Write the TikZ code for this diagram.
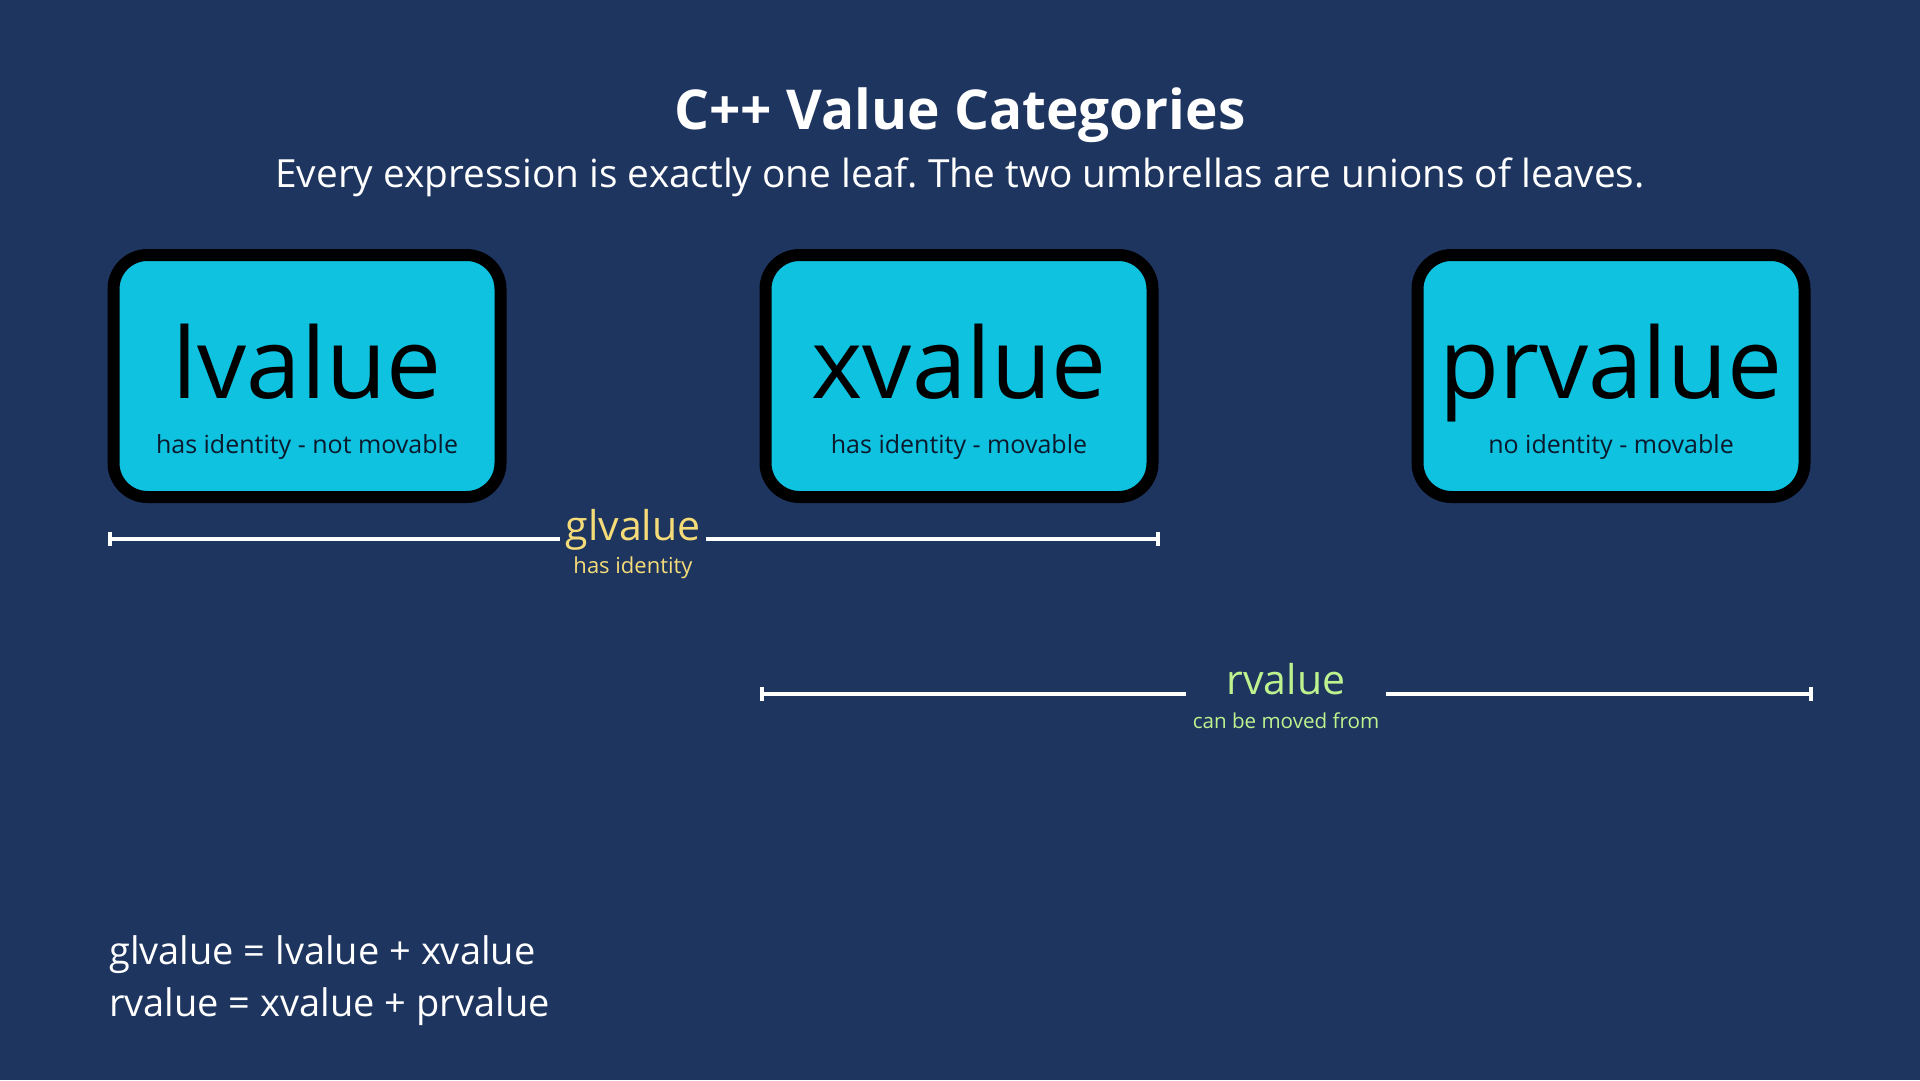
\documentclass[tikz,border=0pt]{standalone}
\usepackage{fontspec}
\setmainfont{Open Sans}
\usetikzlibrary{arrows.meta, positioning, fit}
\definecolor{Navy}{HTML}{1E3560}
\definecolor{Cyan}{HTML}{0EC2E0}
\definecolor{Gold}{HTML}{F5DC78}
\definecolor{Lime}{HTML}{BDF28E}
\definecolor{Ink}{HTML}{0A1A2C}
\frenchspacing

\begin{document}
\begin{tikzpicture}[x=1pt, y=-1pt,
  leaf/.style={draw=black, line width=12pt, rounded corners=34pt,
     fill=Cyan, minimum width=387pt, minimum height=242pt},
  word/.style={anchor=base, inner sep=0pt, text=black,
     font=\fontsize{98}{98}\selectfont},
  note/.style={anchor=base, inner sep=0pt, text=Ink,
     font=\fontsize{25}{25}\selectfont},
  umb/.style={anchor=base, inner sep=0pt, font=\fontsize{41}{41}\selectfont},
  umbnote/.style={anchor=base, inner sep=0pt, font=\fontsize{22}{22}\selectfont},
  span/.style={line width=4pt, white},
  plain/.style={anchor=base, inner sep=0pt, text=white}]
  \fill[Navy] (0,0) rectangle (1920,1080);
  \useasboundingbox (0,0) rectangle (1920,1080);
  \node[plain, font=\fontsize{55}{55}\selectfont\bfseries] (title) at (960,129)
        {C++ Value Categories};
  \node[plain, font=\fontsize{38.8}{38.8}\selectfont] (sub) at (960,187)
        {Every expression is exactly one leaf. The two umbrellas are unions of leaves.};
  \node[leaf] (lv) at (307,376) {};
  \node[leaf] (xv) at (959,376) {};
  \node[leaf] (pv) at (1611,376) {};
  \node[word] (lv-w) at (307,398) {lvalue};
  \node[word] (xv-w) at (959,398) {xvalue};
  \node[word] (pv-w) at (1611,398) {prvalue};
  \node[note] (lv-n) at (307,453) {has identity - not movable};
  \node[note] (xv-n) at (959,453) {has identity - movable};
  \node[note] (pv-n) at (1611,453) {no identity - movable};
  \node[umb, text=Gold] (gl) at (633,540) {glvalue};
  \node[umbnote, text=Gold] (gl-n) at (633,573) {has identity};
  \node[fit=(gl)(gl-n), inner sep=5pt] (gl-fit) {};
  \node[umb, text=Lime] (rv) at (1286,694) {rvalue};
  \node[umbnote, text=Lime, font=\fontsize{20.6}{20.6}\selectfont] (rv-n) at (1286,728)
        {can be moved from};
  \node[fit=(rv)(rv-n), inner sep=6pt] (rv-fit) {};
  \coordinate (gl-a) at (107.5,539);
  \coordinate (gl-b) at (1159.5,539);
  \coordinate (rv-a) at (760,694);
  \coordinate (rv-b) at (1813,694);
  \draw[span, {Bar[width=14pt]}-] (gl-a) -- (gl-a -| gl-fit.west);
  \draw[span, -{Bar[width=14pt]}] (gl-b -| gl-fit.east) -- (gl-b);
  \draw[span, {Bar[width=14pt]}-] (rv-a) -- (rv-a -| rv-fit.west);
  \draw[span, -{Bar[width=14pt]}] (rv-b -| rv-fit.east) -- (rv-b);
  \node[plain, anchor=base west, font=\fontsize{38}{38}\selectfont] (eq1) at (109,964)
        {glvalue = lvalue + xvalue};
  \node[plain, anchor=base west, font=\fontsize{38}{38}\selectfont] (eq2) at (109,1016)
        {rvalue = xvalue + prvalue};
\end{tikzpicture}
\end{document}
